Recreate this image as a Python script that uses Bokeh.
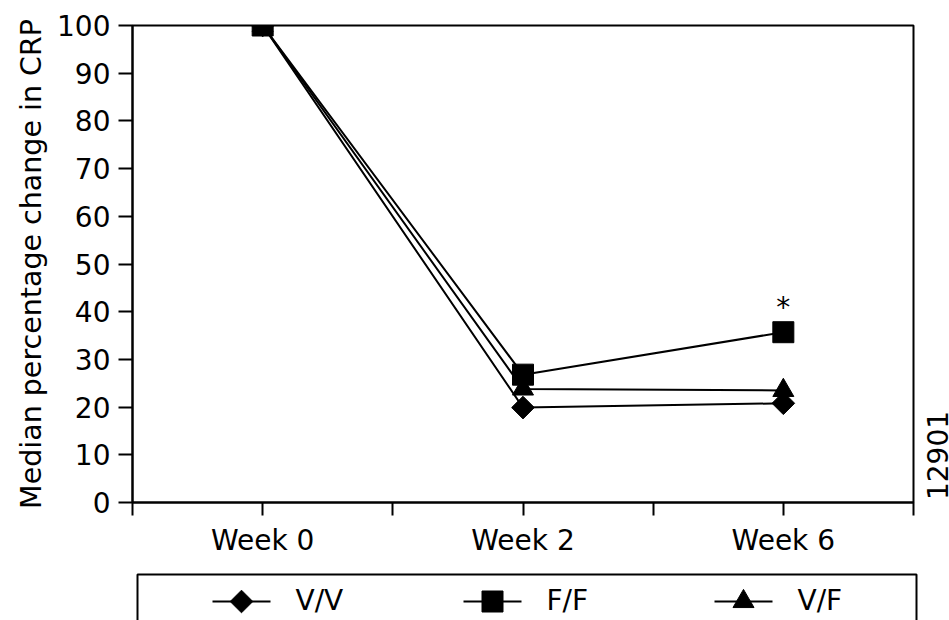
import math
from bokeh.plotting import figure
from bokeh.models import Range1d, FixedTicker, Label, BoxAnnotation, ColumnDataSource
from bokeh.layouts import column, row
from bokeh.embed import file_html
from bokeh.resources import INLINE
from bokeh.core.properties import value

# ---- data ----
weeks = ["Week 0", "Week 2", "Week 6"]
series_names = ["V/V", "F/F", "V/F"]
vv_values = [100, 19.9, 20.8]
ff_values = [100, 26.8, 35.7]
vf_values = [100, 23.8, 23.5]
y_ticks = [0, 10, 20, 30, 40, 50, 60, 70, 80, 90, 100]
y_label = "Median percentage change in CRP"
significance_mark = "*"
side_code = "12901"

# ---- styles ----
FONT = "DejaVu Sans"
FS = "28px"
INK = "black"
marker_styles = {
    "V/V": dict(marker="square", size=16, angle=math.pi / 4),
    "F/F": dict(marker="square", size=21, angle=0.0),
    "V/F": dict(marker="triangle", size=21, angle=0.0),
}
series_values = {"V/V": vv_values, "F/F": ff_values, "V/F": vf_values}

x_pos = [i + 0.5 for i in range(len(weeks))]

W = 949
H1 = 568
W1 = 916
p = figure(width=W1, height=H1, output_backend="svg", toolbar_location=None,
           x_range=Range1d(0, len(weeks)), y_range=Range1d(0, 100),
           min_border_left=132, min_border_right=W1 - 913, min_border_top=25,
           min_border_bottom=66)
p.xgrid.visible = False
p.ygrid.visible = False
p.outline_line_color = INK
p.outline_line_width = 2
p.outline_line_alpha = 1

# y axis
ya = p.yaxis[0]
ya.ticker = FixedTicker(ticks=y_ticks)
ya.axis_label = y_label
ya.axis_label_text_font = FONT
ya.axis_label_text_font_size = "28.5px"
ya.axis_label_text_font_style = "normal"
ya.axis_label_text_color = INK
ya.axis_label_standoff = 6
ya.major_label_text_font = FONT
ya.major_label_text_font_size = FS
ya.major_label_text_color = INK
ya.major_label_standoff = 8
ya.major_tick_in = 0
ya.major_tick_out = 14
ya.minor_tick_line_color = None
ya.axis_line_width = 2
ya.major_tick_line_width = 2
ya.axis_line_color = INK
ya.major_tick_line_color = INK

# x axis: category centres at i+0.5, ticks every half category
xa = p.xaxis[0]
half_ticks = [k * 0.5 for k in range(2 * len(weeks) + 1)]
xa.ticker = FixedTicker(ticks=half_ticks)
overrides = {float(t): "" for t in half_ticks}
for xp, w in zip(x_pos, weeks):
    overrides[float(xp)] = w
xa.major_label_overrides = overrides
xa.major_label_text_font = FONT
xa.major_label_text_font_size = FS
xa.major_label_text_color = INK
xa.major_label_standoff = 8
xa.major_tick_in = 0
xa.major_tick_out = 13
xa.minor_tick_line_color = None
xa.axis_line_width = 2
xa.major_tick_line_width = 2
xa.axis_line_color = INK
xa.major_tick_line_color = INK

for name in ["V/V", "V/F", "F/F"]:
    vals = series_values[name]
    st = marker_styles[name]
    p.line(x_pos, vals, line_color=INK, line_width=2)
    p.scatter(x_pos, vals, marker=st["marker"], size=st["size"], angle=st["angle"],
              fill_color=INK, line_color=INK)

p.add_layout(Label(x=x_pos[-1], y=ff_values[-1], text=significance_mark,
                   y_offset=25, text_align="center", text_baseline="middle",
                   text_font=FONT, text_font_size=FS, text_color=INK))

# ---- side strip with the figure code (frame aligned with the main plot) ----
W3 = W - W1
p3 = figure(width=W3, height=H1, output_backend="svg", toolbar_location=None,
            x_range=Range1d(0, W3), y_range=p.y_range,
            x_axis_location=None, y_axis_location=None,
            min_border_left=0, min_border_right=0, min_border_top=25, min_border_bottom=66)
p3.xgrid.visible = False
p3.ygrid.visible = False
p3.outline_line_color = None
p3.add_layout(Label(x=937 - W1, y=47, y_units="screen", text=side_code, angle=math.pi / 2,
                    text_align="center", text_baseline="middle",
                    text_font=FONT, text_font_size=FS, text_color=INK))

# ---- legend panel ----
LH = 620 - H1
p2 = figure(width=W, height=LH, output_backend="svg", toolbar_location=None,
            x_range=Range1d(0, W), y_range=Range1d(0, LH),
            x_axis_location=None, y_axis_location=None,
            min_border_left=0, min_border_right=0, min_border_top=0, min_border_bottom=0)
p2.xgrid.visible = False
p2.ygrid.visible = False
p2.outline_line_color = None

p2.add_layout(BoxAnnotation(left=137, right=916, top=LH - 6, bottom=-60,
                            fill_alpha=0, line_color=INK, line_width=2, line_alpha=1))

leg_x0 = 241
leg_pitch = 251
leg_y = LH - 33
centers = [leg_x0 + i * leg_pitch for i in range(len(series_names))]
src = ColumnDataSource(dict(
    x=centers,
    x0=[c - 29 for c in centers],
    x1=[c + 29 for c in centers],
    y=[leg_y] * len(centers),
    tx=[c + 54 for c in centers],
    ty=[leg_y + 1] * len(centers),
    name=series_names,
    marker=[marker_styles[n]["marker"] for n in series_names],
    size=[marker_styles[n]["size"] for n in series_names],
    angle=[marker_styles[n]["angle"] for n in series_names],
))
p2.segment(x0="x0", x1="x1", y0="y", y1="y", source=src, line_color=INK, line_width=2)
p2.scatter(x="x", y="y", marker="marker", size="size", angle="angle", source=src,
           fill_color=INK, line_color=INK)
p2.text(x="tx", y="ty", text="name", source=src, text_font=value(FONT),
        text_font_size=FS, text_baseline="middle", text_color=INK)

layout = column(row(p, p3, spacing=0), p2, spacing=0)
open("out.html", "w").write(file_html(layout, INLINE))
